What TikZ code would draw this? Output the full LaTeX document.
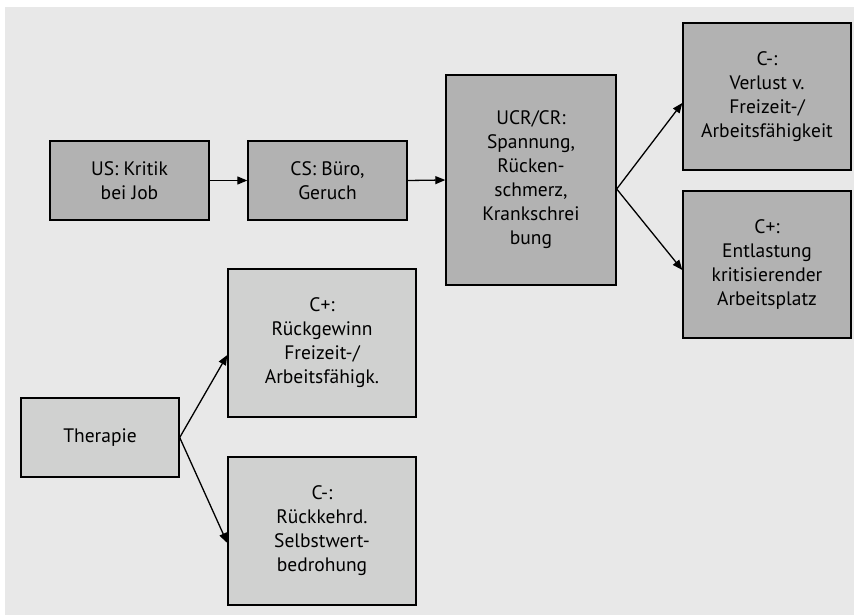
\documentclass[tikz,border=0pt]{standalone}
\usepackage{fontspec}
\setmainfont{PT Sans}
\usetikzlibrary{arrows.meta,calc}
\definecolor{bg}{HTML}{E8E8E8}
\definecolor{dark}{HTML}{B2B2B2}
\definecolor{light}{HTML}{D0D1D0}
\tikzset{
  box/.style={draw=black,line width=1.4pt,align=center,inner sep=0pt,
    font=\fontsize{19.5}{24}\selectfont},
  darkbox/.style={box,fill=dark},
  lightbox/.style={box,fill=light},
  arr/.style={line width=1.3pt,-{Triangle[length=10pt,width=8pt]}},
  fork/.style={line width=1.3pt,-{Triangle[length=10pt,width=8pt]}}
}
\begin{document}
\begin{tikzpicture}[x=1pt,y=-1pt]
\useasboundingbox (0,0) rectangle (854,615);
\fill[white] (0,0) rectangle (854,615);
\fill[bg] (5,7) rectangle (854,615);

\node[darkbox,minimum width=159pt,minimum height=79pt] (us) at (129.5,180.5) {US: Kritik\\bei Job};
\node[darkbox,minimum width=159pt,minimum height=79pt] (cs) at (327.5,180.5) {CS: Büro,\\Geruch};
\node[darkbox,minimum width=170pt,minimum height=210pt] (ucr) at (531,180) {UCR/CR:\\Spannung,\\Rücken-\\schmerz,\\Krankschrei\\bung};
\node[darkbox,minimum width=168pt,minimum height=147pt] (cminusA) at (767,96.5) {C-:\\Verlust v.\\Freizeit-/\\Arbeitsfähigkeit};
\node[darkbox,minimum width=168pt,minimum height=147pt] (cplusA) at (767,264.5) {C+:\\Entlastung\\kritisierender\\Arbeitsplatz};

\node[lightbox,minimum width=158pt,minimum height=79pt] (ther) at (100,437.5) {Therapie};
\node[lightbox,minimum width=188pt,minimum height=148pt] (cplusB) at (322,343) {C+:\\Rückgewinn\\Freizeit-/\\Arbeitsfähigk.};
\node[lightbox,minimum width=188pt,minimum height=148pt] (cminusB) at (322,531) {C-:\\Rückkehrd.\\Selbstwert-\\bedrohung};

\draw[arr] (us.east) -- (cs.west);
\draw[arr] (cs.east) -- (ucr.west);

\coordinate (f1) at ($(ucr.east)+(0,9)$);
\draw[fork] (f1) -- ($(cminusA.west)+(0,6.5)$);
\draw[fork] (f1) -- ($(cplusA.west)+(0,5.5)$);

\coordinate (f2) at (ther.east);
\draw[fork] (f2) -- ($(cplusB.west)+(0,12)$);
\draw[fork] (f2) -- ($(cminusB.west)+(0,12)$);
\end{tikzpicture}
\end{document}
